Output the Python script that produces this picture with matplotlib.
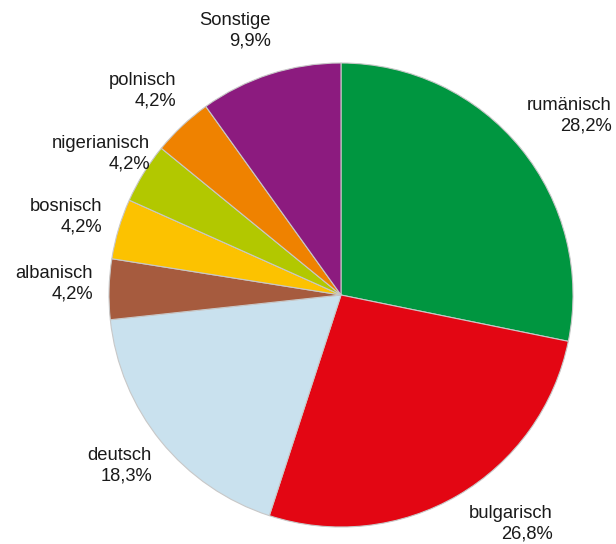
import matplotlib.pyplot as plt

plt.rcParams['font.family'] = ['Liberation Sans', 'DejaVu Sans']

categories = ['rumänisch', 'bulgarisch', 'deutsch', 'albanisch',
              'bosnisch', 'nigerianisch', 'polnisch', 'Sonstige']
shares = [28.2, 26.8, 18.3, 4.2, 4.2, 4.2, 4.2, 9.9]
colors = ['#009640', '#e30613', '#c9e1ee', '#a65b3e',
          '#fcc200', '#b2c800', '#ef8200', '#8c1b7f']

# label anchors (right edge, vertical centre) in pixel space, y from top
label_pos = [(612, 116), (553, 524), (152, 466), (93, 284),
             (102, 217), (150, 154), (176, 91), (271, 31)]

W, H = 616, 544
fig = plt.figure(figsize=(W / 100, H / 100), dpi=100)
ax = fig.add_axes([0, 0, 1, 1])

ax.pie(shares, colors=colors, startangle=90, counterclock=False,
       center=(341, H - 295), radius=232,
       wedgeprops=dict(edgecolor='#c8c8c8', linewidth=0.8))

for name, val, (x, y) in zip(categories, shares, label_pos):
    txt = f"{name}\n{val:.1f}%".replace('.', ',')
    ax.text(x, H - y, txt, ha='right', va='center', multialignment='right',
            fontsize=13.2, color='#1a1a1a', linespacing=1.25)

ax.set_xlim(0, W)
ax.set_ylim(0, H)
ax.set_aspect('equal')
ax.axis('off')

fig.savefig('out.png', dpi=100)
